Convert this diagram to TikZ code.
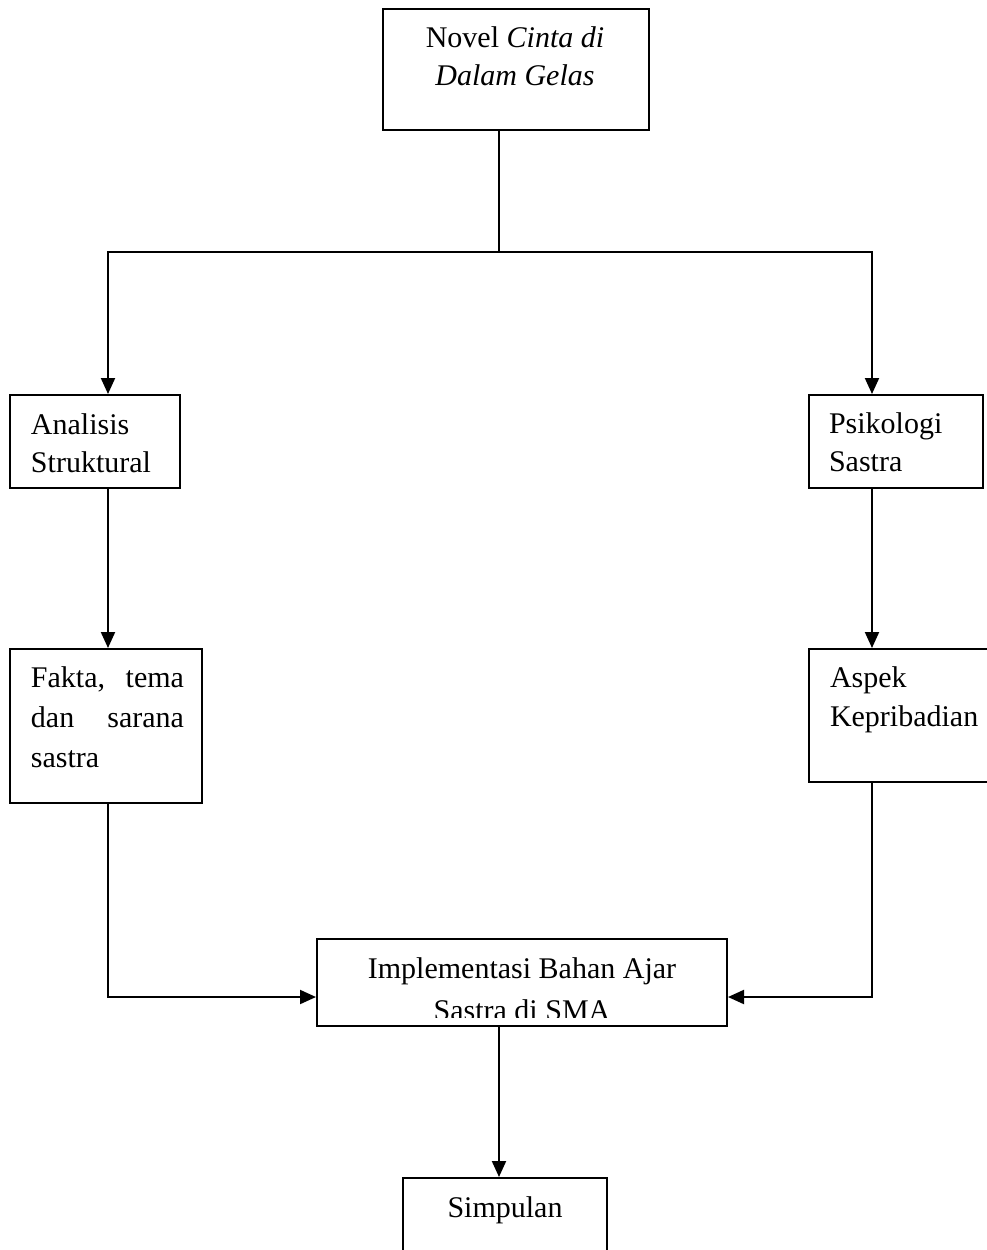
\documentclass[tikz,border=0pt]{standalone}
\usepackage{fontspec}
\setmainfont{Liberation Serif}
\usetikzlibrary{arrows.meta, fit}

\begin{document}
\begin{tikzpicture}[x=0.5pt, y=-0.5pt, line width=1pt,
  >={Triangle[width=7pt,length=8pt]}]

% Gaya kotak, teks dan panah
\tikzset{kotak/.style={draw, inner sep=0pt},
  teks/.style={inner sep=0pt, font=\fontsize{15pt}{19pt}\selectfont},
  panah/.style={->}}

\clip (0,0) rectangle (987,1250);

% --- Kotak ---
\node[kotak, fit={(383,9) (649,130)}] (novel) {};
\node[kotak, fit={(10,395) (180,488)}] (analisis) {};
\node[kotak, fit={(809,395) (983,488)}] (psikologi) {};
\node[kotak, fit={(10,649) (202,803)}] (fakta) {};
\node[kotak, fit={(809,649) (1010,782)}] (aspek) {};
\node[kotak, fit={(317,939) (727,1026)}] (impl) {};
\node[kotak, fit={(403,1178) (607,1280)}] (simpulan) {};

% --- Teks ---
\node[teks, anchor=base] (novelA) at (515,47) {Novel \textit{Cinta di}};
\node[teks, anchor=base] (novelB) at (515,85) {\textit{Dalam Gelas}};
\node[teks, anchor=base west] (analisisA) at (30,434) {Analisis};
\node[teks, anchor=base west] (analisisB) at (30,472) {Struktural};
\node[teks, anchor=base west] (psikologiA) at (828,433) {Psikologi};
\node[teks, anchor=base west] (psikologiB) at (828,471) {Sastra};
\node[teks, anchor=base west] (faktaA) at (30,687) {\makebox[76.5pt][s]{Fakta, tema}};
\node[teks, anchor=base west] (faktaB) at (30,727) {\makebox[76.5pt][s]{dan sarana}};
\node[teks, anchor=base west] (faktaC) at (30,767) {sastra};
\node[teks, anchor=base west] (aspekA) at (829,687) {Aspek};
\node[teks, anchor=base west] (aspekB) at (829,726) {Kepribadian};
\node[teks, anchor=base] (implA) at (522,978) {Implementasi Bahan Ajar};
\begin{scope}
  \clip (317,939) rectangle (727,1017);
  \node[teks, anchor=base] (implB) at (522,1020) {Sastra di SMA};
\end{scope}
\node[teks, anchor=base] (simpulanA) at (505,1217) {Simpulan};

% --- Titik bantu ---
\coordinate (tengah) at (499,252);
\coordinate (kiri) at (108,252);
\coordinate (kanan) at (872,252);
\coordinate (baris) at (0,997);

% --- Panah ---
\draw (novel.south -| tengah) -- (tengah);
\draw[panah] (tengah) -- (kiri) -- (kiri |- analisis.north);
\draw[panah] (tengah) -- (kanan) -- (kanan |- psikologi.north);
\draw[panah] (kiri |- analisis.south) -- (kiri |- fakta.north);
\draw[panah] (kanan |- psikologi.south) -- (kanan |- aspek.north);
\draw[panah] (kiri |- fakta.south) |- (impl.west |- baris);
\draw[panah] (kanan |- aspek.south) |- (impl.east |- baris);
\draw[panah] (tengah |- impl.south) -- (tengah |- simpulan.north);

\end{tikzpicture}
\end{document}
